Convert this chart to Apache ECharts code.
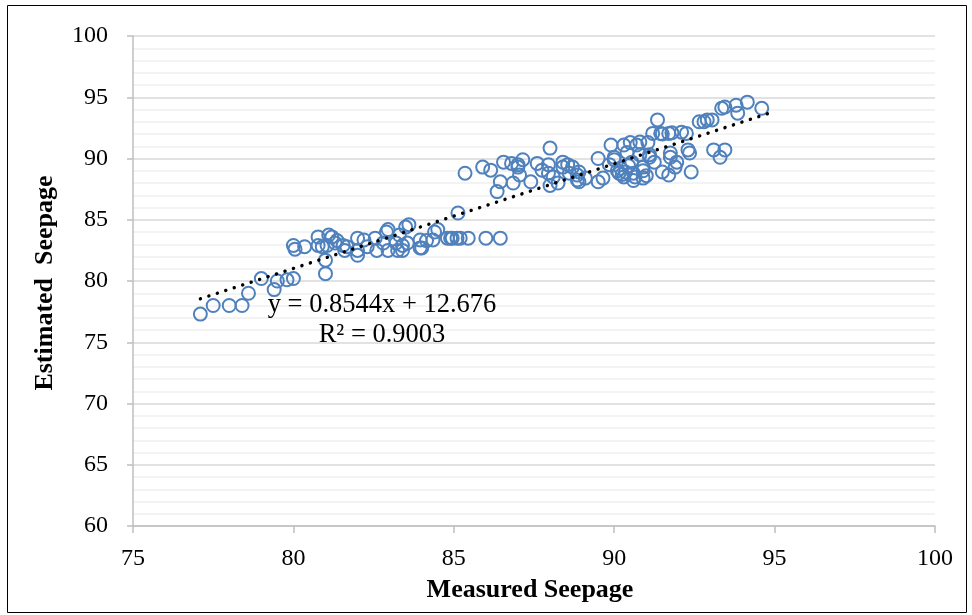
<!DOCTYPE html>
<html>
<head>
<meta charset="utf-8">
<script src="https://cdn.jsdelivr.net/npm/echarts@6/dist/echarts.min.js"></script>
<style>html,body{margin:0;padding:0;background:#fff}#c{width:972px;height:615px}</style>
</head>
<body>
<div id="c"></div>
<script>
// Measured vs estimated seepage
var measured = [
  77.1,77.5,78.0,78.4,78.6,79.0,79.4,79.5,79.8,80.0,81.0,81.0,
  80.0,80.05,80.35,80.77,80.77,81.05,81.2,81.36,81.55,81.6,80.9,81.1,81.3,81.67,
  82.0,82.0,82.0,82.2,82.3,82.55,82.6,82.8,82.95,82.95,83.2,83.25,83.5,83.6,83.55,
  83.95,83.95,84.15,84.4,84.35,84.8,84.95,85.1,85.45,85.13,
  82.9,83.3,83.4,83.4,84.0,84.5,84.9,85.2,86.0,86.45,
  85.35,85.9,86.15,86.45,86.35,86.55,86.8,87.0,87.0,87.15,87.05,86.85,87.4,87.6,87.75,
  87.95,88.0,87.95,88.0,88.25,88.1,88.4,88.4,88.55,88.7,88.85,88.85,88.6,
  88.9,88.9,89.1,89.5,89.5,89.65,89.9,90.0,90.0,90.2,90.3,90.3,90.4,90.5,90.55,90.6,90.6,
  90.7,90.8,90.8,90.9,90.9,90.9,91.05,91.1,91.1,91.25,91.2,91.35,91.45,91.5,91.5,
  91.7,91.75,91.75,91.7,91.8,91.9,91.95,92.1,92.25,92.3,92.35,92.4,
  92.65,92.8,92.9,93.05,93.1,93.3,93.45,93.35,93.45,93.85,93.8,94.15,94.6,
  90.1,90.25,90.45,90.65,90.15,89.85,91.0,90.35
];
var estimated = [
  77.3,78.0,78.0,78.0,79.0,80.2,79.3,80.0,80.1,80.2,80.6,81.7,
  82.9,82.6,82.8,83.6,82.9,82.9,83.6,83.3,82.9,82.5,82.8,83.75,83.1,82.8,
  83.5,82.5,82.1,83.35,82.8,83.5,82.5,83.1,84.2,82.5,83.1,82.5,84.4,84.6,83.1,
  83.35,82.7,83.3,84.0,83.35,83.5,83.5,83.5,83.5,85.55,
  84.0,83.75,82.9,82.5,82.7,84.2,83.5,83.5,83.5,83.5,
  88.8,89.3,89.05,88.1,87.3,89.7,89.6,89.5,89.3,89.9,88.65,88.0,88.1,89.6,89.05,
  89.5,90.85,88.8,87.8,88.0,88.5,89.7,89.3,89.5,89.3,88.65,88.25,88.8,
  88.9,88.1,88.4,90.0,88.1,88.4,91.1,89.9,90.1,89.2,88.5,91.1,90.5,91.3,89.7,88.8,88.2,
  91.1,91.35,90.3,89.3,88.4,89.0,91.3,90.3,90.1,89.7,92.05,93.15,92.05,88.9,92.0,
  92.05,90.45,90.1,88.65,92.1,89.3,89.7,92.15,92.05,90.7,90.45,88.9,
  93.0,93.0,93.15,93.15,90.7,90.1,90.7,94.1,94.2,93.7,94.35,94.6,94.1,
  89.0,88.7,89.4,88.5,88.8,89.5,88.6,88.9
];
var trendX = [77.1, 94.8];
var trendY = [78.55, 93.67];
var xTicks = [75, 80, 85, 90, 95, 100];
var yTicks = [60, 65, 70, 75, 80, 85, 90, 95, 100];

var pts = measured.map(function (x, i) { return [x, estimated[i]]; });
var trend = trendX.map(function (x, i) { return [x, trendY[i]]; });

var serif = '"Liberation Serif","Times New Roman",serif';
var chart = echarts.init(document.getElementById('c'), null, {renderer: 'canvas'});
chart.setOption({
  animation: false,
  backgroundColor: '#fff',
  grid: {left: 133, right: 37, top: 36, bottom: 89, containLabel: false},
  xAxis: {
    type: 'value', min: 75, max: 100, interval: 5,
    axisLine: {show: true, onZero: false, lineStyle: {color: '#bfbfbf', width: 1.5}},
    axisTick: {show: true, length: 7, lineStyle: {color: '#bfbfbf', width: 1.5}},
    axisLabel: {color: '#000', fontFamily: serif, fontSize: 24, margin: 21,
      formatter: function (v) { return xTicks.indexOf(v) >= 0 ? String(v) : ''; }},
    splitLine: {show: false}
  },
  yAxis: {
    type: 'value', min: 60, max: 100, interval: 5,
    axisLine: {show: true, lineStyle: {color: '#bfbfbf', width: 1.5}},
    axisTick: {show: true, length: 6, lineStyle: {color: '#bfbfbf', width: 1.5}},
    minorTick: {show: false, splitNumber: 5},
    minorSplitLine: {show: true, lineStyle: {color: '#f0f0f0', width: 1.5}},
    axisLabel: {color: '#000', fontFamily: serif, fontSize: 24, margin: 25,
      formatter: function (v) { return yTicks.indexOf(v) >= 0 ? String(v) : ''; }},
    splitLine: {show: true, lineStyle: {color: '#d9d9d9', width: 1.5}}
  },
  series: [
    {
      type: 'scatter', data: pts, symbol: 'circle', symbolSize: 13,
      itemStyle: {color: 'rgba(255,255,255,0)', borderColor: '#4f81bd', borderWidth: 2, opacity: 1},
      z: 3
    },
    {
      type: 'line', data: trend, symbol: 'none', silent: true,
      lineStyle: {color: '#000', width: 3.4, type: [0.1, 8.8], cap: 'round'},
      z: 4
    }
  ],
  graphic: [
    {type: 'rect', shape: {x: 7.5, y: 5.5, width: 959, height: 607},
      style: {fill: 'none', stroke: '#000', lineWidth: 1}, z: 10, silent: true},
    {type: 'text', x: 382, y: 305, style: {text: 'y = 0.8544x + 12.676', fontFamily: serif, fontSize: 26.5,
      fill: '#000', align: 'center', verticalAlign: 'middle'}, z: 10},
    {type: 'text', x: 382, y: 335, style: {text: 'R² = 0.9003', fontFamily: serif, fontSize: 26.5,
      fill: '#000', align: 'center', verticalAlign: 'middle'}, z: 10},
    {type: 'text', x: 530, y: 590, style: {text: 'Measured Seepage', fontFamily: serif, fontSize: 26,
      fontWeight: 'bold', fill: '#000', align: 'center', verticalAlign: 'middle'}, z: 10},
    {type: 'text', x: 45, y: 283, rotation: Math.PI / 2, style: {text: 'Estimated  Seepage', fontFamily: serif,
      fontSize: 26, fontWeight: 'bold', fill: '#000', align: 'center', verticalAlign: 'middle'}, z: 10}
  ]
});
</script>
</body>
</html>
